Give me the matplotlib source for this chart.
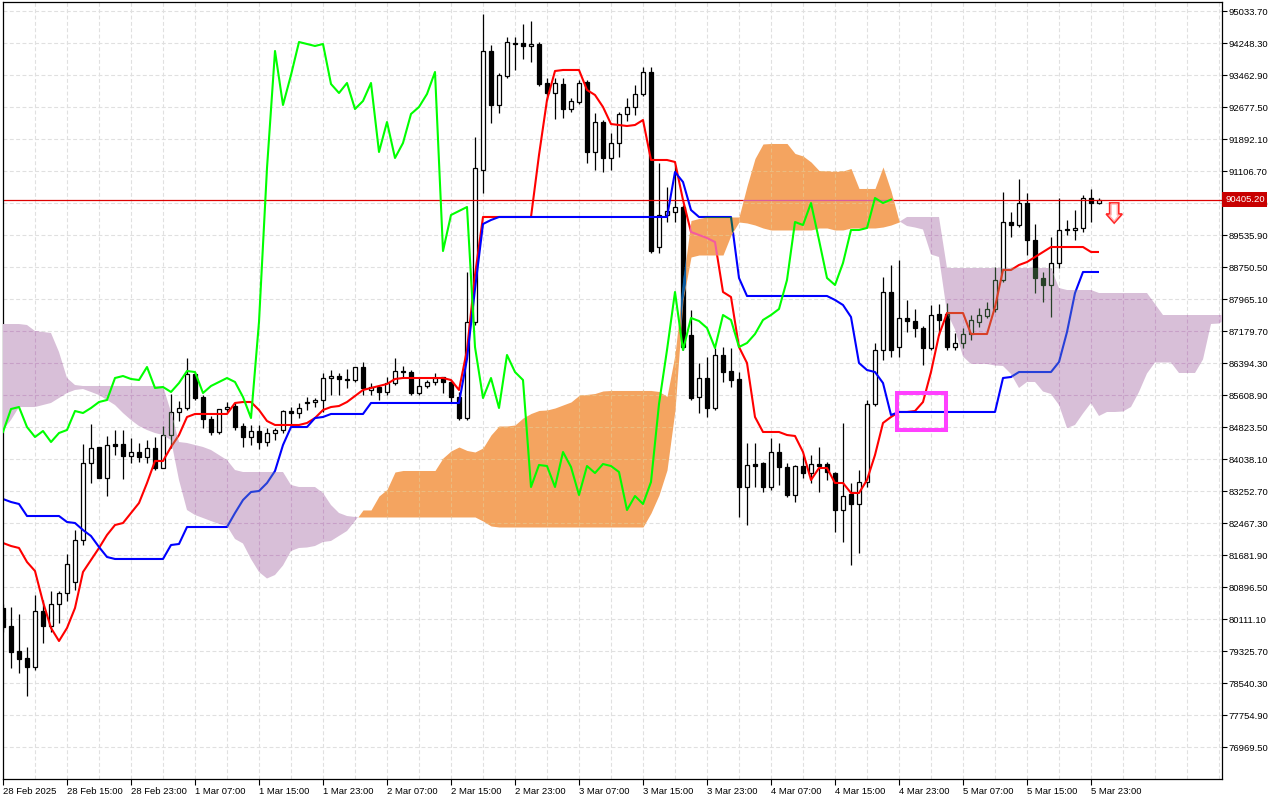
import numpy as np
import matplotlib
matplotlib.use("Agg")
import matplotlib.pyplot as plt
from matplotlib.path import Path
from matplotlib.patches import Rectangle, Polygon

# ---------------- data (hourly bars, 28 Feb 07:00 -> 6 Mar 00:00) ----------------
time_labels = ['28 Feb 2025', '28 Feb 15:00', '28 Feb 23:00', '1 Mar 07:00', '1 Mar 15:00',
               '1 Mar 23:00', '2 Mar 07:00', '2 Mar 15:00', '2 Mar 23:00', '3 Mar 07:00',
               '3 Mar 15:00', '3 Mar 23:00', '4 Mar 07:00', '4 Mar 15:00', '4 Mar 23:00',
               '5 Mar 07:00', '5 Mar 15:00', '5 Mar 23:00']
price_ticks = [95033.70, 94248.30, 93462.90, 92677.50, 91892.10, 91106.70, 90321.30,
               89535.90, 88750.50, 87965.10, 87179.70, 86394.30, 85608.90, 84823.50,
               84038.10, 83252.70, 82467.30, 81681.90, 80896.50, 80111.10, 79325.70,
               78540.30, 77754.90, 76969.50]

open_ = [80381, 79939, 79326, 79154, 78933, 80307, 79939, 80479, 80749, 81019,
         82050, 83940, 84333, 83572, 84406, 84406, 84112, 84210, 84087, 84308,
         83817, 84627, 85192, 85290, 86124, 85560, 85020, 84701, 85265, 85339,
         84848, 84578, 84725, 84455, 84676, 84750, 85216, 85167, 85413, 85437,
         85486, 86026, 86075, 86002, 85977, 86296, 85732, 85805, 85683, 85903,
         86198, 86173, 85658, 85830, 85928, 86051, 85928, 85560, 85044, 87401,
         91131, 94052, 92727, 93438, 94248, 94248, 94175, 94224, 93267, 93021,
         93242, 92628, 92800, 93291, 91573, 92309, 91426, 91794, 92506, 92678,
         92997, 93537, 89241, 90027, 90100, 90223, 87082, 85560, 86026, 85290,
         86591, 86198, 86002, 83351, 83915, 83940, 83351, 84210, 83842, 83155,
         83866, 83694, 83915, 83915, 83694, 82786, 83179, 82934, 83474, 85388,
         86713, 88137, 86787, 87499, 87425, 87253, 86762, 87597, 87597, 86787,
         86885, 87106, 87401, 87548, 87720, 88431, 89855, 89781, 90321, 89413,
         88481, 88309, 88849, 89683, 89659, 89708, 90444, 90321]
high = [80479, 80406, 80234, 79424, 80700, 80577, 80798, 80798, 81706, 82295,
        84406, 84897, 84333, 84603, 84750, 84750, 84553, 84431, 84504, 84578,
        84848, 85633, 85462, 86517, 86173, 85609, 85093, 85265, 85437, 85413,
        84922, 84873, 84873, 84799, 84799, 85241, 85314, 85413, 85560, 85535,
        86149, 86222, 86149, 86247, 86296, 86419, 85903, 85854, 86051, 86517,
        86321, 86222, 86051, 85977, 86149, 86051, 85977, 85683, 88628, 91941,
        94960, 94199, 93512, 94396, 94396, 94715, 94788, 94273, 93389, 93389,
        93389, 92898, 93340, 93340, 92530, 92358, 92039, 92555, 92898, 93217,
        93659, 93659, 91303, 90714, 91254, 90272, 87695, 86394, 86542, 86762,
        86787, 86762, 86173, 84431, 84431, 83964, 84553, 84431, 83940, 83891,
        84136, 84136, 84333, 83964, 83719, 84922, 83449, 83768, 85486, 86885,
        88505, 88800, 88922, 87941, 87720, 87302, 87818, 87842, 87867, 87131,
        87253, 87572, 87744, 87891, 88751, 90591, 90100, 90910, 90567, 89806,
        88628, 89487, 90444, 89904, 90149, 90518, 90665, 90444]
low = [79792, 78908, 78786, 78221, 78859, 79522, 79792, 80013, 80553, 80823,
       81927, 83449, 83572, 83130, 84136, 83547, 83940, 83964, 83940, 83768,
       83817, 84308, 84971, 85241, 85486, 84799, 84627, 84652, 85192, 84750,
       84333, 84382, 84283, 84357, 84504, 84676, 84873, 85044, 85241, 85314,
       85192, 85609, 85609, 85781, 85928, 85609, 85609, 85486, 85609, 85854,
       86026, 85609, 85609, 85781, 85854, 85658, 85437, 84995, 84995, 87327,
       90567, 92285, 92530, 93389, 93586, 93856, 93782, 93193, 92849, 92383,
       92408, 92555, 92751, 91303, 91131, 91082, 91131, 91450, 92334, 92481,
       92947, 89094, 89094, 89855, 89855, 86713, 85486, 85167, 85069, 85241,
       85928, 85805, 82615, 82418, 83351, 83228, 83277, 83400, 83105, 82983,
       83572, 83449, 83228, 83523, 82246, 82001, 81436, 81731, 83351, 85339,
       86468, 86542, 86542, 87155, 87032, 86345, 86713, 87082, 86713, 86713,
       86762, 86959, 87278, 87499, 87646, 88382, 89487, 89732, 89045, 88112,
       87891, 87523, 88726, 89536, 89413, 89610, 89855, 90297]
close = [79915, 79301, 79129, 78933, 80307, 79939, 80479, 80749, 81461, 82050,
         83940, 84308, 83572, 84382, 84357, 84112, 84210, 84087, 84308, 83817,
         84627, 85192, 85290, 86124, 85535, 85020, 84701, 85265, 85314, 84823,
         84578, 84725, 84455, 84676, 84750, 85216, 85167, 85290, 85437, 85486,
         86026, 86075, 86002, 85977, 86296, 85781, 85805, 85683, 85903, 86198,
         86173, 85658, 85830, 85928, 86026, 85928, 85560, 85044, 87401, 91180,
         94052, 92727, 93463, 94273, 94224, 94175, 94224, 93242, 93021, 93267,
         92628, 92825, 93267, 91573, 92309, 91426, 91794, 92506, 92678, 92997,
         93537, 89143, 90027, 90125, 90223, 86787, 85535, 86026, 85290, 86591,
         86173, 85977, 83351, 83891, 83866, 83351, 84210, 83842, 83155, 83866,
         83694, 83915, 83866, 83719, 82786, 83130, 82934, 83474, 85388, 86713,
         88137, 86713, 87499, 87425, 87253, 86762, 87572, 87450, 86787, 86885,
         87106, 87450, 87572, 87720, 88431, 89855, 89781, 90321, 89413, 88481,
         88309, 88849, 89659, 89659, 89708, 90444, 90321, 90405.20]
tenkan = [81976, 81903, 81854, 81510, 81289, 80528, 79890, 79571, 79890, 80381,
          81265, 81559, 81854, 82173, 82418, 82467, 82713, 82958, 83449, 83989,
          83989, 84333, 84627, 85069, 85143, 85143, 85143, 85143, 85143, 85413,
          85437, 85437, 85241, 84971, 84873, 84873, 84873, 84873, 84922, 85044,
          85241, 85314, 85339, 85437, 85584, 85732, 85781, 85830, 85879, 86002,
          86026, 86026, 86026, 86026, 86026, 86026, 85977, 85732, 86713, 88554,
          89978, 89978, 89978, 89978, 89978, 89978, 89978, 91499, 92849, 93561,
          93586, 93586, 93586, 93095, 92972, 92678, 92260, 92236, 92211, 92236,
          92358, 91377, 91377, 91377, 91328, 90395, 89610, 89536, 89462, 89364,
          88137, 88014, 86787, 86394, 85069, 84701, 84701, 84701, 84627, 84603,
          84210, 83523, 83817, 83817, 83449, 83449, 83204, 83204, 83523, 84136,
          84922, 85069, 85192, 85192, 85216, 85437, 86173, 87082, 87621, 87621,
          87621, 87106, 87106, 87106, 87769, 88677, 88677, 88800, 88873, 88996,
          89119, 89241, 89241, 89241, 89241, 89241, 89119, 89119]
kijun = [83056, 82983, 82934, 82639, 82639, 82639, 82639, 82639, 82492, 82467,
         82295, 82148, 81878, 81633, 81584, 81584, 81584, 81584, 81584, 81584,
         81584, 81927, 81952, 82369, 82369, 82369, 82369, 82369, 82369, 82713,
         83032, 83228, 83253, 83449, 83744, 84382, 84823, 84823, 84823, 85044,
         85069, 85143, 85143, 85143, 85143, 85143, 85413, 85413, 85413, 85413,
         85413, 85413, 85413, 85413, 85413, 85413, 85413, 85413, 86492, 88210,
         89806, 89904, 89978, 89978, 89978, 89978, 89978, 89978, 89978, 89978,
         89978, 89978, 89978, 89978, 89978, 89978, 89978, 89978, 89978, 89978,
         89978, 89978, 89978, 89978, 91082, 90837, 90149, 89978, 89978, 89978,
         89978, 89978, 88481, 88039, 88039, 88039, 88039, 88039, 88039, 88039,
         88039, 88039, 88039, 88039, 87941, 87818, 87523, 86394, 86222, 86173,
         85903, 85118, 85192, 85192, 85192, 85192, 85192, 85192, 85192, 85192,
         85192, 85192, 85192, 85192, 85192, 86026, 86051, 86173, 86173, 86173,
         86173, 86173, 86419, 87155, 88112, 88628, 88628, 88628]
# Senkou spans, already displaced 26 bars forward (154 positions)
span_a = [84750, 84995, 85314, 85314, 85314, 85363, 85413, 85535, 85658, 85732,
          85756, 85683, 85609, 85486, 85363, 85167, 84995, 84848, 84750, 84676,
          84627, 84504, 83523, 82786, 82664, 82590, 82516, 82443, 82394, 82075,
          81964, 81584, 81265, 81105, 81191, 81424, 81780, 81854, 81866, 81903,
          82001, 82026, 82149, 82271, 82517, 82787, 82787, 83130, 83290, 83719,
          83756, 83756, 83756, 83756, 83756, 84063, 84235, 84333, 84247, 84210,
          84309, 84628, 84848, 84848, 84873, 85044, 85155, 85229, 85241, 85290,
          85364, 85438, 85597, 85622, 85646, 85708, 85720, 85720, 85720, 85720,
          85720, 85720, 85695, 85573, 86603, 88382, 89892, 89941, 89978, 89978,
          89978, 89978, 89978, 90739, 91414, 91770, 91782, 91782, 91782, 91537,
          91475, 91328, 91119, 91107, 91095, 91107, 91168, 90678, 90678, 90678,
          91205, 90616, 89880, 89757, 89720, 89671, 89058, 88996, 87634, 87217,
          86554, 86370, 86370, 86370, 86333, 86321, 86125, 85781, 85928, 85928,
          85695, 85634, 85364, 84799, 84873, 85155, 85413, 85094, 85192, 85192,
          85204, 85315, 85683, 86137, 86407, 86407, 86407, 86149, 86149, 86149,
          86481, 87352, 87364, 87487]
span_b = [87351, 87351, 87351, 87327, 87180, 87155, 87131, 86664, 86026, 85854,
          85830, 85830, 85830, 85830, 85830, 85830, 85830, 85830, 85830, 85830,
          85830, 85192, 84455, 84431, 84382, 84333, 84259, 84136, 84013, 83768,
          83719, 83719, 83719, 83719, 83719, 83719, 83400, 83351, 83351, 83351,
          83204, 82909, 82713, 82639, 82615, 82615, 82615, 82615, 82615, 82615,
          82615, 82615, 82615, 82615, 82615, 82615, 82615, 82615, 82615, 82615,
          82516, 82394, 82369, 82369, 82369, 82369, 82369, 82369, 82369, 82369,
          82369, 82369, 82369, 82369, 82369, 82369, 82369, 82369, 82369, 82369,
          82369, 82713, 83155, 83768, 85241, 87941, 88996, 89045, 89045, 89045,
          89045, 89536, 89855, 89831, 89781, 89708, 89659, 89659, 89659, 89659,
          89659, 89659, 89708, 89708, 89659, 89659, 89708, 89708, 89708, 89708,
          89732, 89781, 89855, 89978, 89978, 89978, 89978, 89978, 88726, 88726,
          88726, 88726, 88726, 88726, 88726, 88726, 88726, 88726, 88726, 88726,
          88726, 88726, 88235, 88186, 88186, 88186, 88186, 88112, 88112, 88112,
          88112, 88112, 88112, 88112, 87842, 87572, 87572, 87572, 87572, 87572,
          87572, 87572, 87572, 87572]
chikou_shift = 26
chikou = close[chikou_shift:]          # closing prices drawn 26 bars back

# ---------------- styles ----------------
plt.rcParams['font.family'] = ['Liberation Sans', 'DejaVu Sans']
FS = 6.8
GRID = '#E0E0E0'
ORANGE = '#F4A460'
PURPLE = '#D8BFD8'
PRICE_RED = '#DD0000'
TENKAN_C = '#FF0000'
KIJUN_C = '#0000FF'
CHIKOU_C = '#00FF00'


def xor_hex(a, b):
    return '#%06X' % (int(a[1:], 16) ^ int(b[1:], 16))


O = np.array(open_, float)
H = np.array(high, float)
L = np.array(low, float)
C = np.array(close, float)
n = len(C)
x = np.arange(n)
up = C >= O
body_lo = np.minimum(O, C)
body_h = np.maximum(np.abs(C - O), 12.0)
A = np.array(span_a, float)
B = np.array(span_b, float)
xc = np.arange(len(A))

fig = plt.figure(figsize=(12.8, 8), dpi=100, facecolor='white')
ax = fig.add_axes([3 / 1280, 21 / 800, 1219 / 1280, 777 / 800])
ax.set_facecolor('white')
ax.set_xlim(0, 152.375)
ax.set_ylim(76184.1, 95254.6)

vgrid = np.arange(4, 153, 4)


def draw_grid(color, z):
    arts = []
    for p in price_ticks:
        arts.append(ax.axhline(p, color=color, lw=0.8, ls=(0, (3.5, 2.2)), zorder=z))
    for v in vgrid:
        arts.append(ax.axvline(v, color=color, lw=0.8, ls=(0, (3.5, 2.2)), zorder=z))
    return arts


def draw_candles(edge, black_fill, white_fill, z):
    arts = [ax.vlines(x, L, H, colors=edge, lw=0.9, zorder=z)]
    bars = ax.bar(x, body_h, bottom=body_lo, width=0.62,
                  color=[white_fill if u else black_fill for u in up],
                  edgecolor=edge, linewidth=0.9, zorder=z + 0.05)
    arts.extend(bars.patches)
    return arts


def draw_lines(tc, kc, pc, z):
    l1, = ax.plot(x, tenkan, color=tc, lw=1.5, zorder=z, solid_capstyle='butt')
    l2, = ax.plot(x, kijun, color=kc, lw=1.5, zorder=z, solid_capstyle='butt')
    l3 = ax.axhline(C[-1], color=pc, lw=0.9, zorder=z - 0.1)
    return [l1, l2, l3]


# base layer (grid, candles, tenkan/kijun, price line)
draw_grid(GRID, 0.6)
draw_candles('#000000', '#000000', '#FFFFFF', 2.0)
draw_lines(TENKAN_C, KIJUN_C, PRICE_RED, 2.5)

# Kumo cloud
bull = ax.fill_between(xc, A, B, where=A >= B, interpolate=True, color=ORANGE, lw=0, zorder=3)
bear = ax.fill_between(xc, A, B, where=A < B, interpolate=True, color=PURPLE, lw=0, zorder=3)

# MetaTrader draws the cloud in XOR mode: redraw what lies under it with inverted colours
for coll, cc in ((bull, ORANGE), (bear, PURPLE)):
    paths = coll.get_paths()
    if len(paths) == 0:
        continue
    clip = Path.make_compound_path(*paths)
    mask = xor_hex(cc, '#FFFFFF')
    arts = []
    arts += draw_grid(xor_hex(GRID, mask), 3.1)
    arts += draw_candles(xor_hex('#000000', mask), xor_hex('#000000', mask), cc, 3.2)
    arts += draw_lines(xor_hex(TENKAN_C, mask), xor_hex(KIJUN_C, mask),
                       xor_hex(PRICE_RED, mask), 3.5)
    for a in arts:
        a.set_clip_path(clip, ax.transData)

# Chikou span
ax.plot(x[:len(chikou)], chikou, color=CHIKOU_C, lw=1.5, zorder=4)

# magenta highlight box around the flat Kijun section
box_x0, box_x1 = 111.75, 117.875
box_mid = kijun[112]
ax.add_patch(Rectangle((box_x0, box_mid - 454), box_x1 - box_x0, 908, fill=False,
                       ec='#FF40FF', lw=2.9, zorder=5, joinstyle='miter'))

# sell arrow to the right of the last bar
cx = n + 0.9
y0 = C[-1]
arrow_pts = [(cx - 0.56, y0 - 83), (cx + 0.56, y0 - 83), (cx + 0.56, y0 - 354),
             (cx + 1.0, y0 - 354), (cx, y0 - 574), (cx - 1.0, y0 - 354),
             (cx - 0.56, y0 - 354)]
ax.add_patch(Polygon(arrow_pts, closed=True, fc='white', ec='#FF2A2A', lw=1.3,
                     zorder=5, joinstyle='miter'))
inner = [(cx - 0.38, y0 - 110), (cx + 0.38, y0 - 110), (cx + 0.38, y0 - 380),
         (cx + 0.62, y0 - 380), (cx, y0 - 530), (cx - 0.62, y0 - 380),
         (cx - 0.38, y0 - 380)]
ax.add_patch(Polygon(inner, closed=True, fill=False, ec='#FFB0B0', lw=0.9, zorder=5))

# axes / ticks
for s in ax.spines.values():
    s.set_linewidth(0.9)
    s.set_color('black')
ax.yaxis.tick_right()
ax.set_yticks(price_ticks)
ax.set_yticklabels(['%.2f' % p for p in price_ticks])
ax.tick_params(axis='y', which='major', length=3.5, width=0.8, pad=1.5,
               labelsize=FS, colors='black')
ax.set_xticks(np.arange(0, 8 * len(time_labels), 8))
ax.set_xticklabels(time_labels, ha='left')
ax.tick_params(axis='x', which='major', length=4, width=0.8, pad=2,
               labelsize=FS, colors='black')

# current price label
ax.annotate('%.2f' % C[-1], xy=(1, C[-1]), xycoords=('axes fraction', 'data'),
            xytext=(2.2, 0), textcoords='offset points', ha='left', va='center',
            color='white', fontsize=FS,
            bbox=dict(boxstyle='square,pad=0.28', fc='#C80000', ec='none'),
            zorder=10, annotation_clip=False)

fig.savefig('out.png', dpi=100, facecolor='white')
